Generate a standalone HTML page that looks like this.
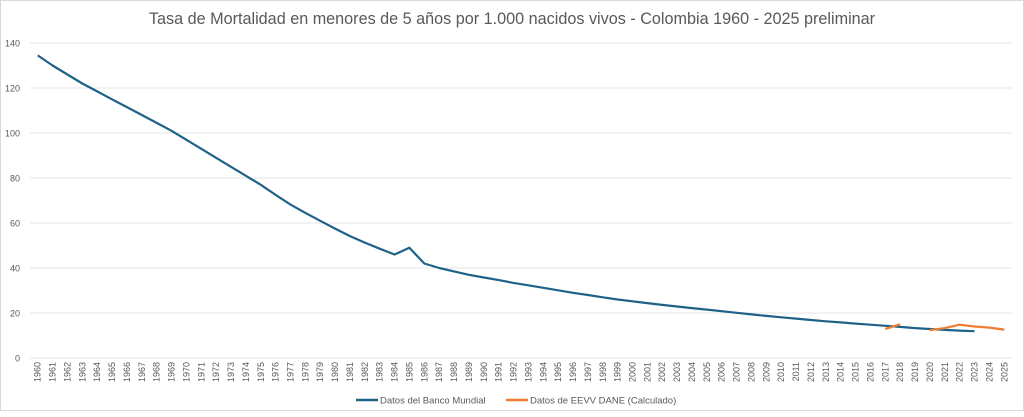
<!DOCTYPE html>
<html><head><meta charset="utf-8"><style>
html,body{margin:0;padding:0;background:#fff;}
svg{display:block;font-family:"Liberation Sans",sans-serif;}
</style></head><body>
<svg id="c" width="1024" height="417" xmlns="http://www.w3.org/2000/svg">
<rect x="0.5" y="0.5" width="1023" height="410" fill="#fff" stroke="#d9d9d9"/>
<text x="512" y="24" text-anchor="middle" font-size="16.2" fill="#595959">Tasa de Mortalidad en menores de 5 años por 1.000 nacidos vivos - Colombia 1960 - 2025 preliminar</text>
<g id="g"></g>
<line x1="356" y1="400" x2="378" y2="400" stroke="#1f6287" stroke-width="2.5"/>
<text x="380" y="403.5" font-size="9.5" fill="#595959">Datos del Banco Mundial</text>
<line x1="506" y1="400" x2="528" y2="400" stroke="#ed7d31" stroke-width="2.5"/>
<text x="530" y="403.5" font-size="9.5" fill="#595959">Datos de EEVV DANE (Calculado)</text>
</svg>
<script>
var g=document.getElementById('g'),h='';
function Y(v){return 358-v*45/20;}
function X(i){return 37.7+i*14.87;}
for(var k=0;k<=7;k++){var y=Y(k*20);h+='<line x1="30" x2="1012" y1="'+y+'" y2="'+y+'" stroke="#e6e6e6" stroke-width="1"/>';
h+='<text x="20" y="'+(y+3.5)+'" text-anchor="end" font-size="9" fill="#595959">'+(k*20)+'</text>';}
for(var i=0;i<=65;i++){var x=X(i)+3;h+='<text transform="translate('+x+',362) rotate(-90)" text-anchor="end" font-size="9" fill="#595959">'+(1960+i)+'</text>';}
var b=[134.5,130,126,122,118.5,115,111.5,108,104.5,101,97,93,89,85,81,77,72.5,68.2,64.5,61,57.5,54.2,51.3,48.6,46,49,42,40,38.5,37,35.8,34.6,33.4,32.3,31.2,30.1,29,28,27,26,25.2,24.4,23.6,22.9,22.2,21.5,20.8,20.1,19.4,18.7,18.1,17.5,16.9,16.3,15.8,15.3,14.8,14.3,13.8,13.3,12.9,12.5,12.2,11.9];
var p=b.map(function(v,i){return X(i).toFixed(1)+','+Y(v).toFixed(1)}).join(' ');
h+='<polyline points="'+p+'" fill="none" stroke="#1f6287" stroke-width="2.2" stroke-linejoin="round"/>';
h+='<polyline points="'+X(57)+','+Y(12.9)+' '+X(58)+','+Y(15)+'" fill="none" stroke="#ed7d31" stroke-width="2.2"/>';
var o=[[60,12.4],[61,13.3],[62,14.8],[63,14],[64,13.5],[65,12.6]];
h+='<polyline points="'+o.map(function(a){return X(a[0])+','+Y(a[1])}).join(' ')+'" fill="none" stroke="#ed7d31" stroke-width="2.2" stroke-linejoin="round"/>';
g.innerHTML=h;
</script>
</body></html>
